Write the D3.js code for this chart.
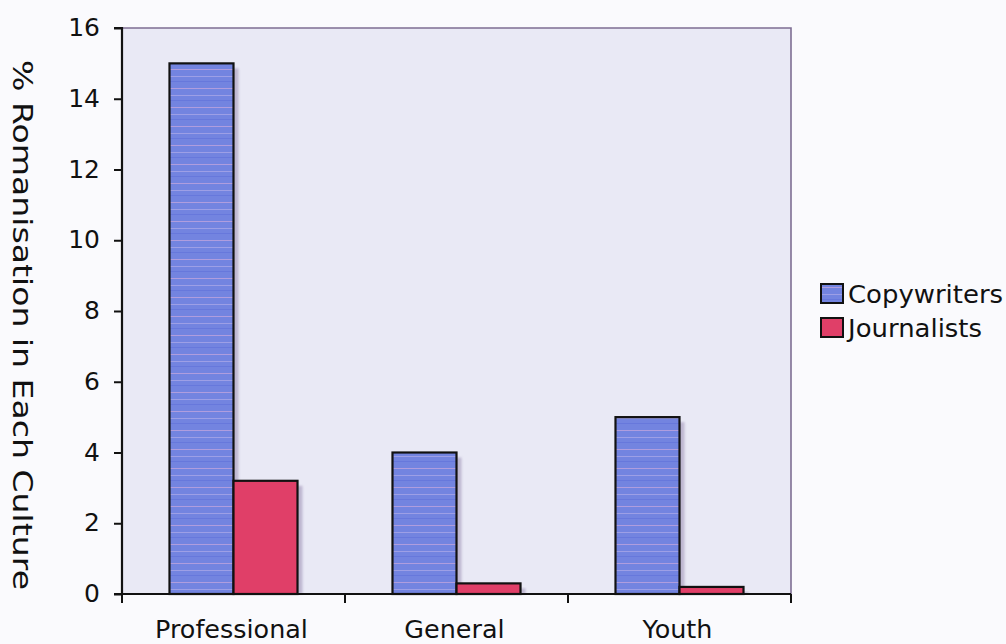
<!DOCTYPE html>
<html>
<head>
<meta charset="utf-8">
<script src="https://cdn.jsdelivr.net/npm/d3@7"></script>
<style>
  html, body { margin: 0; padding: 0; background: #fafafd; }
  svg { display: block; }
  text { font-family: "DejaVu Sans", "Open Sans", sans-serif; fill: #111; }
</style>
</head>
<body>
<svg id="chart" width="1006" height="644"></svg>
<script>
// Romanisation rates by culture type
const categories = ["Professional", "General", "Youth"];
const seriesNames = ["Copywriters", "Journalists"];
const copywriters = [15, 4.0, 5.0];
const journalists = [3.2, 0.3, 0.2];
const yTicks = [0, 2, 4, 6, 8, 10, 12, 14, 16];
const seriesColors = ["#7384e0", "#e03f68"];

const svg = d3.select("#chart");
const margin = { left: 122, right: 215, top: 28, bottom: 50 };
const W = 1006, H = 644;
const plotW = W - margin.left - margin.right;
const plotH = H - margin.top - margin.bottom;

// widen glyphs a little: the typeface used here is wide-set
function widen(factor) {
  return sel => sel.each(function () {
    const w = this.getComputedTextLength();
    d3.select(this).attr("textLength", w * factor).attr("lengthAdjust", "spacingAndGlyphs");
  });
}

const defs = svg.append("defs");

// streaked fills for the bars
seriesColors.forEach((c, i) => {
  const p = defs.append("pattern")
    .attr("id", "fill" + i)
    .attr("patternUnits", "userSpaceOnUse")
    .attr("width", 40).attr("height", 19);
  p.append("rect").attr("width", 40).attr("height", 19).attr("fill", c);
  if (i === 0) {
    p.append("rect").attr("y", 3).attr("width", 40).attr("height", 1).attr("fill", "#c9a9de").attr("opacity", 0.7);
    p.append("rect").attr("y", 10).attr("width", 40).attr("height", 1).attr("fill", "#b9b0ea").attr("opacity", 0.6);
    p.append("rect").attr("y", 15).attr("width", 40).attr("height", 1).attr("fill", "#5f70d8").attr("opacity", 0.6);
  }
});

const shadowBlur = defs.append("filter").attr("id", "soft")
  .attr("x", "-20%").attr("y", "-20%").attr("width", "140%").attr("height", "140%");
shadowBlur.append("feGaussianBlur").attr("stdDeviation", 1.2);

const g = svg.append("g").attr("transform", `translate(${margin.left},${margin.top})`);

const x0 = d3.scaleBand().domain(categories).range([0, plotW]).paddingInner(0).paddingOuter(0);
const x1 = d3.scaleBand().domain(seriesNames).range([0, x0.bandwidth()]).paddingInner(0).paddingOuter(0.742);
const y = d3.scaleLinear().domain([0, 16]).range([plotH, 0]);

// plot background
g.append("rect").attr("width", plotW).attr("height", plotH).attr("fill", "#e9e9f5");

// top and right frame
g.append("path")
  .attr("d", `M0,0H${plotW}V${plotH}`)
  .attr("fill", "none").attr("stroke", "#7e6e93").attr("stroke-width", 1.6);

const rows = categories.map((c, i) => ({
  cat: c,
  vals: [
    { s: seriesNames[0], v: copywriters[i], k: 0 },
    { s: seriesNames[1], v: journalists[i], k: 1 }
  ]
}));

const groups = g.selectAll(".grp").data(rows).join("g")
  .attr("class", "grp")
  .attr("transform", d => `translate(${x0(d.cat)},0)`);

// soft shadow behind each bar
groups.selectAll(".shadow").data(d => d.vals).join("rect")
  .attr("class", "shadow")
  .attr("x", d => x1(d.s) + 5)
  .attr("y", d => y(d.v) + 5)
  .attr("width", x1.bandwidth())
  .attr("height", d => plotH - y(d.v) - 5)
  .attr("fill", "#9c8fb4").attr("opacity", 0.55)
  .attr("filter", "url(#soft)");

groups.selectAll(".bar").data(d => d.vals).join("rect")
  .attr("class", "bar")
  .attr("x", d => x1(d.s))
  .attr("y", d => y(d.v))
  .attr("width", x1.bandwidth())
  .attr("height", d => plotH - y(d.v))
  .attr("fill", d => `url(#fill${d.k})`)
  .attr("stroke", "#111").attr("stroke-width", 2.2);

// y axis
const yAxis = g.append("g")
  .call(d3.axisLeft(y).tickValues(yTicks).tickSize(8).tickPadding(14).tickFormat(d3.format("d")));
yAxis.select(".domain").attr("stroke", "#111").attr("stroke-width", 2.2).attr("d", `M-8,0H0V${plotH}`);
yAxis.selectAll(".tick line").attr("stroke", "#111").attr("stroke-width", 2);
yAxis.selectAll(".tick text").attr("font-size", 24).attr("fill", "#111")
  .style("font-family", "'DejaVu Sans', sans-serif")
  .call(widen(1.04));

// x axis: boundary ticks between categories
const xAxisG = g.append("g").attr("transform", `translate(0,${plotH})`);
xAxisG.append("line").attr("x1", -8).attr("x2", plotW).attr("stroke", "#111").attr("stroke-width", 2.2);
const edges = categories.map(c => x0(c)).concat([plotW]);
xAxisG.selectAll(".edge").data(edges).join("line")
  .attr("class", "edge")
  .attr("x1", d => d).attr("x2", d => d)
  .attr("y1", 0).attr("y2", 9)
  .attr("stroke", "#111").attr("stroke-width", 2);
xAxisG.selectAll(".cat").data(categories).join("text")
  .attr("class", "cat")
  .attr("x", d => x0(d) + x0.bandwidth() / 2 - 2)
  .attr("y", 44)
  .attr("text-anchor", "middle")
  .attr("font-size", 24)
  .text(d => d)
  .call(widen(1.06));

// y axis title, reading downward
svg.append("text")
  .attr("transform", `translate(13,325) rotate(90)`)
  .attr("text-anchor", "middle")
  .attr("font-size", 26)
  .attr("textLength", 530)
  .attr("lengthAdjust", "spacingAndGlyphs")
  .text("% Romanisation in Each Culture");

// legend
const legend = svg.append("g").attr("transform", "translate(821,284)");
seriesNames.forEach((s, i) => {
  const row = legend.append("g").attr("transform", `translate(0,${i * 34})`);
  row.append("rect").attr("width", 22).attr("height", 19)
    .attr("fill", `url(#fill${i})`).attr("stroke", "#111").attr("stroke-width", 2);
  row.append("text").attr("x", 27).attr("y", 10).attr("dy", "0.36em")
    .attr("font-size", 24).text(s)
    .call(widen(1.08));
});
</script>
</body>
</html>
